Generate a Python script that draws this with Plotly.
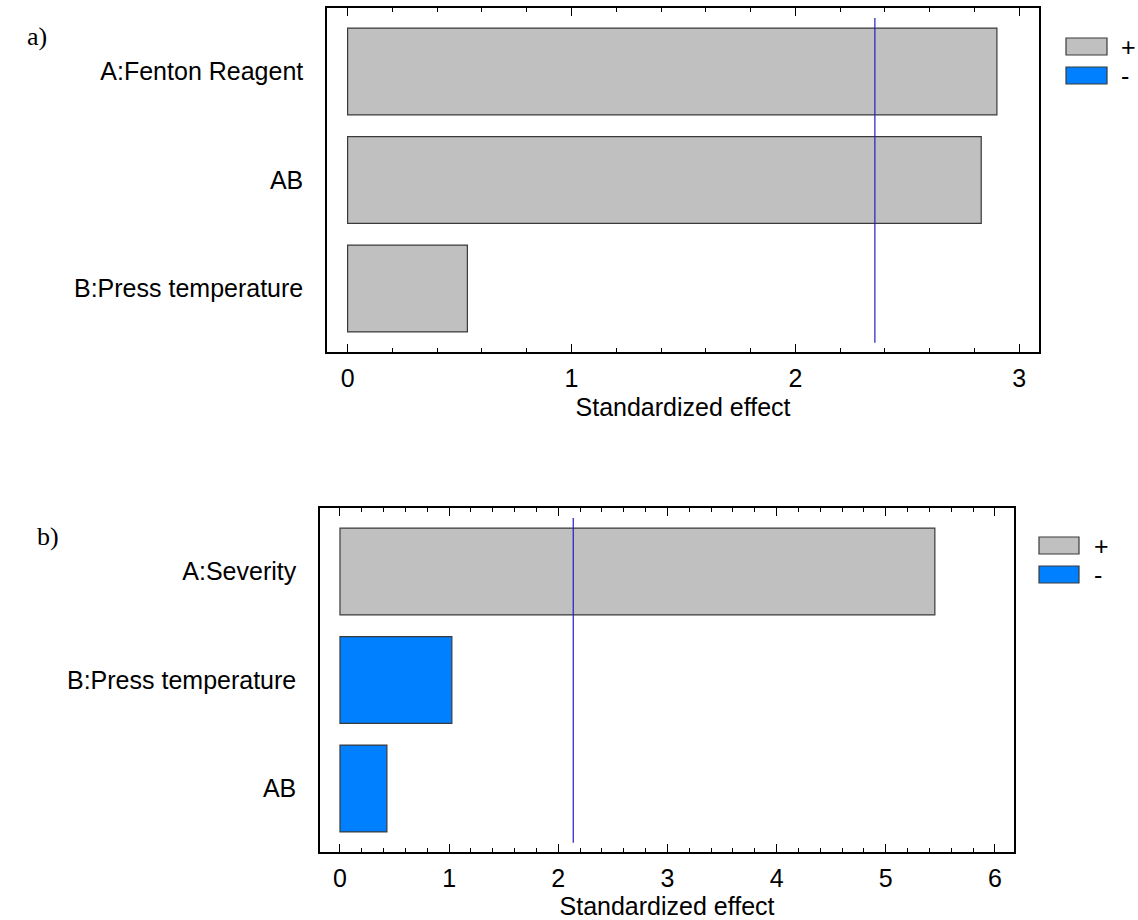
import plotly.graph_objects as go

# ---------------- data ----------------
A_CATS = ["A:Fenton Reagent", "AB", "B:Press temperature"]
A_VALUES = [2.90, 2.83, 0.535]
A_SIGNS = ["+", "+", "+"]
A_CRIT = 2.355
A_XTICKS = [0, 1, 2, 3]

B_CATS = ["A:Severity", "B:Press temperature", "AB"]
B_VALUES = [5.45, 1.025, 0.43]
B_SIGNS = ["+", "-", "-"]
B_CRIT = 2.137
B_XTICKS = [0, 1, 2, 3, 4, 5, 6]

LEGEND_LABELS = ["+", "-"]
PANEL_LABELS = ["a)", "b)"]
X_TITLE = "Standardized effect"

COLORS = {"+": "#C0C0C0", "-": "#0080FF"}
EDGE = "#3a3a3a"
FONT = "Liberation Sans, Arial, sans-serif"
SERIF = "Liberation Serif, Times New Roman, serif"
FS = 25

W, H = 1138, 920


def px(x):
    return x / W


def py(y):
    return 1 - y / H


fig = go.Figure()

panels = [
    (A_CATS, A_VALUES, A_SIGNS, "x", "y"),
    (B_CATS, B_VALUES, B_SIGNS, "x2", "y2"),
]
for cats, vals, signs, xa, ya in panels:
    for s in LEGEND_LABELS:
        xs = [v for v, sg in zip(vals, signs) if sg == s]
        ys = [c for c, sg in zip(cats, signs) if sg == s]
        if not xs:
            continue
        fig.add_trace(go.Bar(
            x=xs, y=ys, orientation="h", width=0.8,
            marker=dict(color=COLORS[s], line=dict(color=EDGE, width=1.2)),
            name=s, showlegend=False, xaxis=xa, yaxis=ya,
        ))

common_x = dict(
    showline=True, mirror="allticks", linecolor="black", linewidth=1.5,
    ticks="inside", ticklen=8, tickwidth=1.2, tickcolor="black",
    minor=dict(ticks="inside", ticklen=4, tickwidth=1, tickcolor="black",
               dtick=0.2, tick0=0, showgrid=False),
    showgrid=False, zeroline=False,
    tickfont=dict(family=FONT, size=FS, color="black"),
    ticklabelstandoff=3,
    title=dict(text=X_TITLE, font=dict(family=FONT, size=FS, color="black"),
               standoff=8),
)
common_y = dict(
    type="category", categoryorder="array",
    showline=True, mirror=True, linecolor="black", linewidth=1.5,
    ticks="", showgrid=False, zeroline=False,
    tickfont=dict(family=FONT, size=FS, color="black"),
    ticklabelstandoff=17,
)

fig.update_layout(
    width=W, height=H,
    margin=dict(l=0, r=0, t=0, b=0),
    paper_bgcolor="white", plot_bgcolor="white",
    barmode="overlay", showlegend=False,
    xaxis=dict(common_x, domain=[px(327), px(1039)], anchor="y",
               range=[-0.092, 3.088], tickvals=A_XTICKS),
    yaxis=dict(common_y, domain=[py(352), py(8)], anchor="x",
               categoryarray=A_CATS, range=[2.585, -0.585]),
    xaxis2=dict(common_x, domain=[px(320), px(1014)], anchor="y2",
                range=[-0.183, 6.175], tickvals=B_XTICKS),
    yaxis2=dict(common_y, domain=[py(852), py(508)], anchor="x2",
                categoryarray=B_CATS, range=[2.585, -0.585]),
)

# critical value lines
for crit, xr, yr in [(A_CRIT, "x", "y domain"), (B_CRIT, "x2", "y2 domain")]:
    fig.add_shape(type="line", xref=xr, yref=yr, x0=crit, x1=crit,
                  y0=0.027, y1=0.971, line=dict(color="#2020C0", width=1.2))

# legends (drawn boxes)
legend_specs = [
    (1066, 1107, [38, 67], 1119),
    (1039, 1079, [537, 566], 1092),
]
for x0, x1, ys, tx in legend_specs:
    for lab, y0 in zip(LEGEND_LABELS, ys):
        fig.add_shape(type="rect", xref="paper", yref="paper",
                      x0=px(x0), x1=px(x1), y0=py(y0), y1=py(y0 + 17),
                      fillcolor=COLORS[lab], line=dict(color=EDGE, width=1.2))
        fig.add_annotation(xref="paper", yref="paper", x=px(tx), y=py(y0 + 8.5),
                           text=lab, showarrow=False, xanchor="left", yanchor="middle",
                           font=dict(family=FONT, size=FS, color="black"))

# panel labels
for lab, (lx, ly) in zip(PANEL_LABELS, [(37, 36), (48, 536)]):
    fig.add_annotation(xref="paper", yref="paper", x=px(lx), y=py(ly), text=lab,
                       showarrow=False, xanchor="center", yanchor="middle",
                       font=dict(family=SERIF, size=26, color="black"))

fig.write_html("out.html", config={"displayModeBar": False},
               post_script="document.body.style.margin='0';document.body.style.overflow='hidden';")
